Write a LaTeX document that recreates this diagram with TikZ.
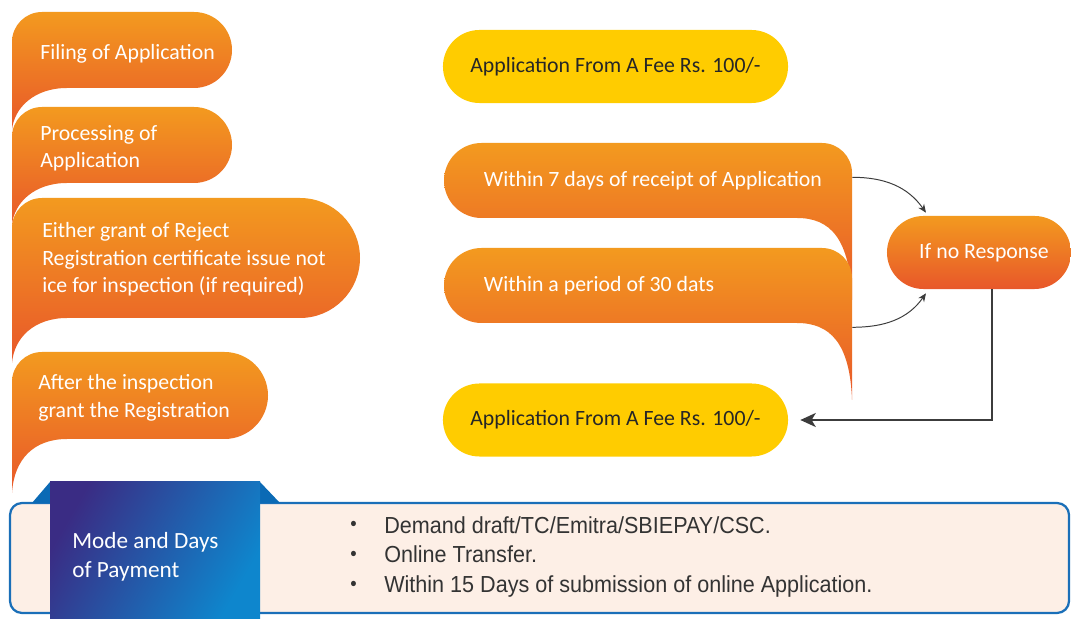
\documentclass[tikz,border=0pt]{standalone}
\usepackage{fontspec}
\setmainfont{Carlito}
\newfontfamily\narrowfont[FakeStretch=0.93]{Liberation Sans}
\usetikzlibrary{positioning,shapes.misc,arrows.meta,backgrounds}

\definecolor{orangetop}{HTML}{F39A1F}
\definecolor{orangebot}{HTML}{E8572A}
\definecolor{feeyellow}{HTML}{FFCC00}
\definecolor{peach}{HTML}{FDEFE6}
\definecolor{panelblue}{HTML}{1A6FB8}
\definecolor{earblue}{HTML}{0B6AB5}
\definecolor{tabpurple}{HTML}{3A2C84}
\definecolor{tabmid}{HTML}{2D4597}
\definecolor{tabblue}{HTML}{0E86CD}
\definecolor{inkgrey}{HTML}{3C3C3C}

% step with tail on the left: left x, top y, bottom y, right x, tip y
\newcommand{\stepshape}[5]{%
  \pgfmathsetmacro{\halfh}{(#2-#3)/2}
  \shade[stagefill] (#1,#5) -- (#1,#2-30) arc[start angle=180,end angle=90,radius=30]
    -- (#4-\halfh,#2) arc[start angle=90,end angle=-90,radius=\halfh]
    -- (#1+55,#3) .. controls (#1+22,#3) and (#1+2,#3-20) .. (#1,#5) -- cycle;
}
% step with tail on the right: left x, top y, bottom y, right x, tip y
\newcommand{\tabshape}[5]{%
  \pgfmathsetmacro{\halfh}{(#2-#3)/2}
  \shade[stagefill] (#4,#5) -- (#4,#2-30) arc[start angle=0,end angle=90,radius=30]
    -- (#1+\halfh,#2) arc[start angle=90,end angle=270,radius=\halfh]
    -- (#4-55,#3) .. controls (#4-22,#3) and (#4-2,#3-20) .. (#4,#5) -- cycle;
}
\newcommand{\listdot}{\makebox[0.85cm][l]{\raisebox{0.1em}{\fontsize{14}{14}\selectfont\textbullet}}}

\begin{document}
\begin{tikzpicture}
		[x=0.025cm,y=0.025cm,
		stagefill/.style={top color=orangetop,bottom color=orangebot},
		stagetext/.style={text=white,font=\fontsize{15.5}{19.5}\selectfont,
align=left,inner sep=0pt,anchor=west},
		slot/.style={minimum width=10.2cm,minimum height=1.875cm,inner sep=0pt},
		feebox/.style={rounded rectangle,fill=feeyellow,minimum width=8.625cm,
minimum height=1.825cm,inner sep=0pt,text=black!85,font=\fontsize{15.5}{19.5}\selectfont},
		respbox/.style={rounded rectangle,top color=orangetop,bottom color=orangebot,
minimum width=4.6cm,minimum height=1.825cm,inner sep=0pt,text=white,
font=\fontsize{15.5}{19.5}\selectfont},
		paytext/.style={text=white,font=\fontsize{16.5}{20.5}\selectfont,
align=left,inner sep=0pt,anchor=west},
		listtext/.style={text=black!80,font=\narrowfont\fontsize{16.5}{21.3}\selectfont,
align=left,inner sep=0pt,anchor=west},
		panel/.style={fill=peach,draw=panelblue,line width=1.6pt,rounded corners=0.3cm},
		link/.style={draw=inkgrey,line width=0.7pt,-{Stealth[length=6pt,width=5pt]}},
		back/.style={draw=inkgrey,line width=1.4pt,-{Stealth[length=11pt,width=10pt,inset=3pt]}}]
		\useasboundingbox (0,0) rectangle (1071,618);
		% left column
		\node at (40,564.5) (filetext) [stagetext] {Filing of Application};
		\node at (40,470) (proctext) [stagetext] {Processing of\\Application};
		\node at (42,358.5) (decidetext) [stagetext] {Either grant of Reject\\Registration certificate issue not\\ice for inspection (if required)};
		\node at (38,220) (granttext) [stagetext] {After the inspection\\grant the Registration};
		% right column
		\node at (615.5,551.5) (fee1) [feebox] {Application From A Fee Rs. 100/-};
		\node at (648,437.5) (r1) [slot] {};
		\node [stagetext,right=1cm of r1.west] (r1text) {Within 7 days of receipt of Application};
		\node at (648,332.5) (r2) [slot] {};
		\node [stagetext,right=1cm of r2.west] (r2text) {Within a period of 30 dats};
		\node at (979,365.5) (resp) [respbox] {\hspace{0.25cm}If no Response};
		\node at (615.5,198) (fee2) [feebox] {Application From A Fee Rs. 100/-};
		\begin{scope}[on background layer]
			\stepshape{12}{606}{530}{232}{488}
			\stepshape{12}{511}{435}{232}{393}
			\stepshape{12}{420}{300}{360}{255}
			\stepshape{12}{266}{179}{268}{125}
			\tabshape{444}{475}{400}{852}{318}
			\tabshape{444}{370}{295}{852}{218}
		\end{scope}
		\draw [link] ([yshift=0.08cm]r1.east) to [out=0,in=125] ([xshift=-1.325cm,yshift=0.075cm]resp.north);
		\draw [link] ([yshift=-0.1cm]r2.south east) to [out=0,in=-125] ([xshift=-1.325cm,yshift=-0.1cm]resp.south);
		\draw [back] ([xshift=0.325cm]resp.south) |- ([xshift=0.3cm]fee2.east);
		% payment panel
		\draw [panel] (10,5) rectangle (1069,115);
		\fill [earblue] (32,115) -- (50,136) -- (50,115) -- cycle;
		\fill [earblue] (260,136) -- (280,115) -- (260,115) -- cycle;
		\shade [left color=tabpurple,middle color=tabmid,right color=tabblue,shading angle=60] (50,0) rectangle (260,136);
		\node at (72,61.5) (paymode) [paytext] {Mode and Days\\of Payment};
		\node at (350,61) (paylist) [listtext] {%
\listdot Demand draft/TC/Emitra/SBIEPAY/CSC.\\
\listdot Online Transfer.\\
\listdot Within 15 Days of submission of online Application.};
	\end{tikzpicture}
\end{document}
